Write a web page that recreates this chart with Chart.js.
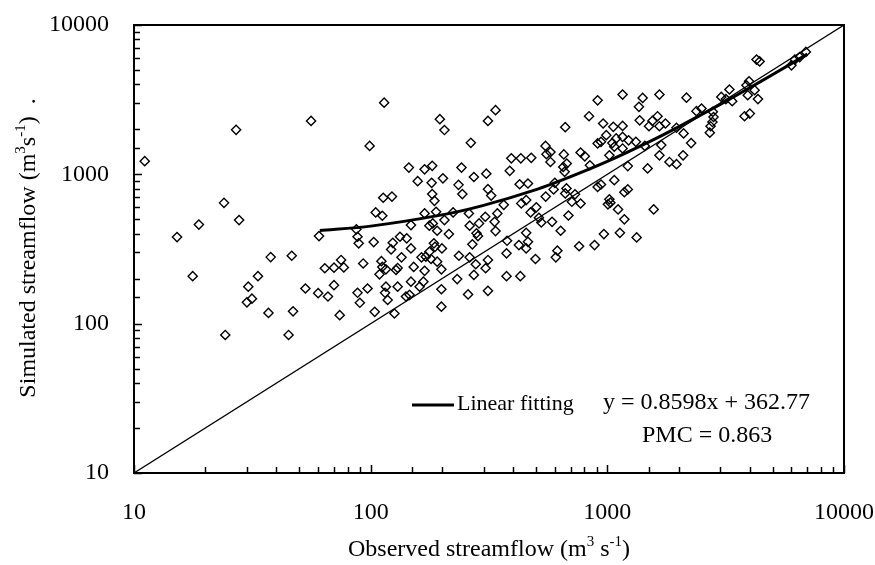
<!DOCTYPE html>
<html>
<head>
<meta charset="utf-8">
<script src="https://cdn.jsdelivr.net/npm/chart.js@4.4.1/dist/chart.umd.min.js"></script>
<style>
html, body { margin: 0; padding: 0; background: #fff; }
#wrap { width: 875px; height: 565px; }
</style>
</head>
<body>
<div id="wrap"><canvas id="flowChart" width="875" height="565"></canvas></div>
<script>
// observed vs simulated streamflow (m3/s)
const obsFlow = [
  15.2, 18.8, 24, 27.8, 17.7, 37.8, 46.4, 33.4, 30.4, 31.5, 30, 37, 47, 24.3, 45, 11.1, 27,
  158, 181, 235, 313, 244, 426, 462, 182, 186, 323, 113, 123, 105, 112, 60.5, 87, 88, 89, 103,
  148, 169, 189, 183, 177, 205, 223, 260, 191, 214, 262, 287, 305, 343, 334, 365, 433, 454, 474,
  501, 549, 593, 600, 664, 730, 708, 685, 584, 526, 514, 635, 454, 462, 423, 454, 377, 375, 497,
  615, 606, 760, 337, 284, 280, 269, 236, 262, 278, 313, 306, 273, 232, 258, 313, 375, 429, 199,
  199, 126, 104, 74, 90, 88, 97, 116, 115, 118, 130, 141, 146, 161, 167, 148, 109, 112, 111, 116,
  128, 130, 135, 152, 169, 199, 191, 180, 164, 171, 177, 185, 187, 200, 148, 142, 133, 124, 122,
  93, 75, 77, 70, 64, 53, 60, 66, 70, 202,
  56, 114, 99, 196, 205, 265, 313, 337, 145, 169, 182, 242, 273, 308, 387, 393, 431, 477, 548,
  553, 575, 575, 655, 664, 674, 660,
  4270, 4400, 6900, 6500, 6200, 6000, 3970, 3870, 4190, 3920, 4330, 4000, 3800, 3280, 3030, 3370,
  3170, 2380, 2500, 2790, 2810, 2780, 2730, 2710, 2160, 1660, 1410, 1360, 1160, 910, 837, 960,
  1060, 1160, 1370, 1500, 1550, 1630, 1660, 1760, 1960, 2100, 2260, 1690, 1440, 1320, 1230, 1160,
  1090, 1050, 990, 940, 910, 1070, 1160, 1020, 771, 803, 844, 651, 1660, 1830, 1960, 2090, 1220,
  1480, 1070, 940, 910, 1220, 1180, 672, 1020,
  771, 1006, 1030, 1110, 1180, 1570, 967, 1130, 1330, 883
];
const simFlow = [
  380, 461, 644, 494, 208, 279, 285, 208, 177, 147, 139, 118, 121, 84, 84, 1225, 1987,
  900, 877, 850, 796, 738, 858, 868, 738, 665, 721, 697, 710, 556, 528, 386, 428, 382, 345, 352,
  457, 547, 561, 469, 453, 494, 556, 547, 419, 398, 453, 469, 520, 547, 481, 625, 639, 672, 556,
  601, 710, 793, 877, 745, 735, 655, 530, 481, 476, 512, 419, 406, 353, 336, 319, 359, 296, 271,
  308, 278, 330, 417, 386, 403, 340, 285, 278, 250, 267, 235, 212, 199, 157, 166, 208, 208, 170,
  130, 117, 120, 114, 138, 161, 172, 177, 161, 144, 177, 152, 156, 177, 191, 191, 214, 240, 262, 231,
  229, 236, 278, 240, 226, 231, 260, 271, 278, 281, 303, 345, 327, 319, 319, 373, 382, 348, 314,
  253, 267, 238, 237, 235, 172, 160, 152, 181, 940,
  2280, 3020, 1550, 2340, 1980, 1625, 2280, 2690, 1110, 1080, 1140, 1110, 960, 1010, 1055, 1280, 1280, 1290, 1550,
  1365, 1410, 1210, 1360, 2070, 1180, 1040,
  5870, 5700, 6600, 6100, 5870, 5370, 4200, 3950, 3660, 3390, 3190, 2550, 2450, 3700, 3300, 3090,
  3190, 2650, 2760, 2620, 2420, 2240, 2100, 1900, 3260, 3420, 3250, 2830, 3420, 3130, 2450, 2190,
  2080, 2110, 2300, 2100, 2280, 2450, 2100, 2190, 2050, 1880, 1620, 1570, 1550, 1650, 1690, 1780,
  1740, 1620, 1830, 1650, 1610, 1530, 1490, 1340, 1400, 1320, 1150, 1120, 1340, 1210, 1170, 1340, 1135,
  1095, 914, 855, 824, 793, 760, 805, 680,
  638, 630, 646, 582, 500, 582, 398, 406, 378, 336
];

// fitted curve
const fitObs = [61, 100, 200, 300, 500, 700, 1000, 1500, 2000, 3000, 4000, 5000, 7000];
const fitSim = [421, 450, 535, 620, 790, 965, 1220, 1650, 2080, 2940, 3800, 4660, 6380];

// 1:1 line
const lineObs = [10, 10000];
const lineSim = [10, 10000];

const tickLabels = [10, 100, 1000, 10000];
const fitLabel = 'Linear fitting';
const eqText = 'y = 0.8598x + 362.77';
const pmcText = 'PMC = 0.863';

const FONT = "'Liberation Serif', 'Times New Roman', serif";

function drawRich(ctx, parts, x, y, size) {
  // parts: [text, isSuperscript]
  const supSize = Math.round(size * 0.62);
  let total = 0;
  parts.forEach(p => {
    ctx.font = (p[1] ? supSize : size) + 'px ' + FONT;
    total += ctx.measureText(p[0]).width;
  });
  let cx = x - total / 2;
  ctx.textAlign = 'left';
  ctx.textBaseline = 'alphabetic';
  parts.forEach(p => {
    ctx.font = (p[1] ? supSize : size) + 'px ' + FONT;
    ctx.fillText(p[0], cx, p[1] ? y - size * 0.42 : y);
    cx += ctx.measureText(p[0]).width;
  });
}

const framePlugin = {
  id: 'frame',
  afterDraw(chart) {
    const { ctx, chartArea: a, scales: { x, y } } = chart;
    ctx.save();
    ctx.strokeStyle = '#000';
    ctx.fillStyle = '#000';
    ctx.lineWidth = 1.5;

    // inward ticks
    x.ticks.forEach(t => {
      const px = Math.round(x.getPixelForValue(t.value)) + 0.5;
      const len = tickLabels.includes(t.value) ? 8 : 6;
      ctx.beginPath(); ctx.moveTo(px, a.bottom); ctx.lineTo(px, a.bottom - len); ctx.stroke();
    });
    y.ticks.forEach(t => {
      const py = Math.round(y.getPixelForValue(t.value)) + 0.5;
      const len = tickLabels.includes(t.value) ? 8 : 6;
      ctx.beginPath(); ctx.moveTo(a.left, py); ctx.lineTo(a.left + len, py); ctx.stroke();
    });

    ctx.lineWidth = 2;
    ctx.strokeRect(a.left, a.top, a.right - a.left, a.bottom - a.top);

    // axis titles
    drawRich(ctx, [['Observed streamflow (m', 0], ['3', 1], [' s', 0], ['-1', 1], [')', 0]],
      (a.left + a.right) / 2, 556, 24);
    ctx.save();
    ctx.translate(35, 248);
    ctx.rotate(-Math.PI / 2);
    drawRich(ctx, [['Simulated streamflow (m', 0], ['3', 1], ['s', 0], ['-1', 1], [')  .', 0]], 0, 0, 24);
    ctx.restore();

    // legend + equation
    ctx.lineWidth = 3;
    ctx.beginPath(); ctx.moveTo(412, 405); ctx.lineTo(454, 405); ctx.stroke();
    ctx.font = '22px ' + FONT;
    ctx.textAlign = 'left';
    ctx.textBaseline = 'middle';
    ctx.fillText(fitLabel, 457, 404);
    ctx.font = '24px ' + FONT;
    ctx.fillText(eqText, 603, 403);
    ctx.fillText(pmcText, 642, 436);
    ctx.restore();
  }
};

function pairs(xs, ys) {
  return xs.map((v, i) => ({ x: v, y: ys[i] }));
}

function fixBox(s, w, h) {
  if (w !== null) s.width = w;
  if (h !== null) s.height = h;
  s.paddingLeft = 0;
  s.paddingRight = 0;
  s.paddingTop = 0;
  s.paddingBottom = 0;
}

const tickFont = { family: FONT, size: 24 };
const tickLabel = v => tickLabels.includes(v) ? String(v) : '';

new Chart(document.getElementById('flowChart'), {
  type: 'scatter',
  data: {
    datasets: [
      {
        data: pairs(obsFlow, simFlow),
        pointStyle: 'rectRot',
        pointRadius: 4.6,
        pointBorderWidth: 1.4,
        borderColor: '#000',
        backgroundColor: 'rgba(0,0,0,0)'
      },
      {
        data: pairs(lineObs, lineSim),
        showLine: true,
        borderColor: '#000',
        borderWidth: 1.3,
        pointRadius: 0
      },
      {
        data: pairs(fitObs, fitSim),
        showLine: true,
        borderColor: '#000',
        borderWidth: 3,
        tension: 0.3,
        pointRadius: 0
      }
    ]
  },
  options: {
    responsive: false,
    devicePixelRatio: 1,
    animation: false,
    layout: { padding: { left: 0, top: 25, right: 31, bottom: 0 } },
    plugins: { legend: { display: false }, tooltip: { enabled: false } },
    scales: {
      x: {
        type: 'logarithmic', min: 10, max: 10000,
        grid: { display: false, drawTicks: false },
        border: { display: false },
        ticks: { autoSkip: false, maxRotation: 0, minRotation: 0, color: '#000', padding: 25, font: tickFont, callback: tickLabel },
        afterFit: s => fixBox(s, null, 92)
      },
      y: {
        type: 'logarithmic', min: 10, max: 10000,
        grid: { display: false, drawTicks: false },
        border: { display: false },
        ticks: { autoSkip: false, color: '#000', padding: 25, font: tickFont, callback: tickLabel },
        afterFit: s => fixBox(s, 134, null)
      }
    }
  },
  plugins: [framePlugin]
});
</script>
</body>
</html>
